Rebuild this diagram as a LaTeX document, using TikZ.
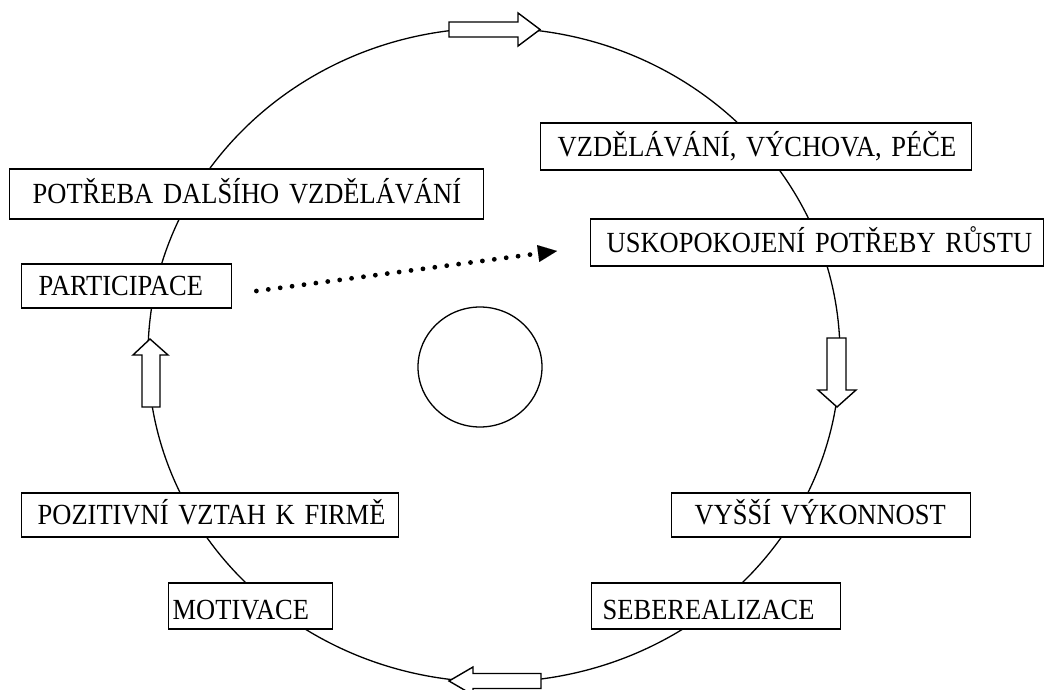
\documentclass[tikz,border=0pt]{standalone}
\usepackage{fontspec}
\setmainfont{Liberation Serif}[FakeStretch=0.907]
\usetikzlibrary{arrows.meta}

\tikzset{
  ring/.style={line width=1.3pt},
  box/.style={draw, fill=white, line width=1.4pt, anchor=west, align=left,
    text height=19.3pt, text depth=0pt, inner ysep=0pt,
    font=\fontsize{29.2}{32}\selectfont},
  lowtext/.style={text height=26.3pt},
  blockarrow/.style={draw, fill=white, line width=1.4pt, line join=miter},
  dotline/.style={line width=4.8pt, line cap=round, dash pattern=on 0pt off 12pt,
    -{Triangle[length=19pt,width=17pt,line width=0.01pt]}},
}

\begin{document}
\begin{tikzpicture}[x=1pt, y=-1pt]
\useasboundingbox (0,0) rectangle (1045,690);

% the cycle and the central circle
\draw[ring] (494,355) ellipse [x radius=346, y radius=327];
\draw[ring] (480,367) ellipse [x radius=62, y radius=60];

% stages of the cycle
\node[box, text width=428pt, inner xsep=23pt, minimum height=50pt] (potreba) at (9,194)
  {\mbox{POTŘEBA DALŠÍHO VZDĚLÁVÁNÍ}};
\node[box, text width=176pt, inner xsep=17pt, minimum height=44pt] (partic) at (21,286)
  {\mbox{PARTICIPACE}};
\node[box, text width=397pt, inner xsep=17pt, minimum height=47pt] (vzdel) at (540,146.5)
  {\mbox{VZDĚLÁVÁNÍ, VÝCHOVA, PÉČE}};
\node[box, text width=421pt, inner xsep=16pt, minimum height=47pt] (usk) at (590,242.5)
  {\mbox{USKOPOKOJENÍ POTŘEBY RŮSTU}};
\node[box, text width=345pt, inner xsep=16pt, minimum height=44pt] (pozit) at (21,515)
  {\mbox{POZITIVNÍ VZTAH K FIRMĚ}};
\node[box, text width=253pt, inner xsep=23pt, minimum height=44pt] (vyssi) at (671,515)
  {\mbox{VYŠŠÍ VÝKONNOST}};
\node[box, lowtext, text width=156pt, inner xsep=4pt, minimum height=46pt] (motiv) at (168,606)
  {\mbox{MOTIVACE}};
\node[box, lowtext, text width=227pt, inner xsep=11pt, minimum height=46pt] (seber) at (591,606)
  {\mbox{SEBEREALIZACE}};

% block arrows on the ring
\draw[blockarrow] (449,22) -- (518,22) -- (518,13) -- (540,29.5) -- (518,46)
  -- (518,37) -- (449,37) -- cycle;
\draw[blockarrow] (827,338) -- (846,338) -- (846,390) -- (856,390) -- (837,407)
  -- (818,390) -- (827,390) -- cycle;
\draw[blockarrow] (541,673.5) -- (473,673.5) -- (473,667) -- (449,681) -- (473,695)
  -- (473,688.5) -- (541,688.5) -- cycle;
\draw[blockarrow] (142,407) -- (142,355) -- (133,355) -- (150,339) -- (168,355)
  -- (160,355) -- (160,407) -- cycle;

% dotted link across the cycle
\coordinate (dstart) at ([shift={(24,5)}]partic.east);
\coordinate (dend) at ([shift={(-33,8.5)}]usk.west);
\draw[dotline] (dstart) -- (dend);
\end{tikzpicture}
\end{document}
